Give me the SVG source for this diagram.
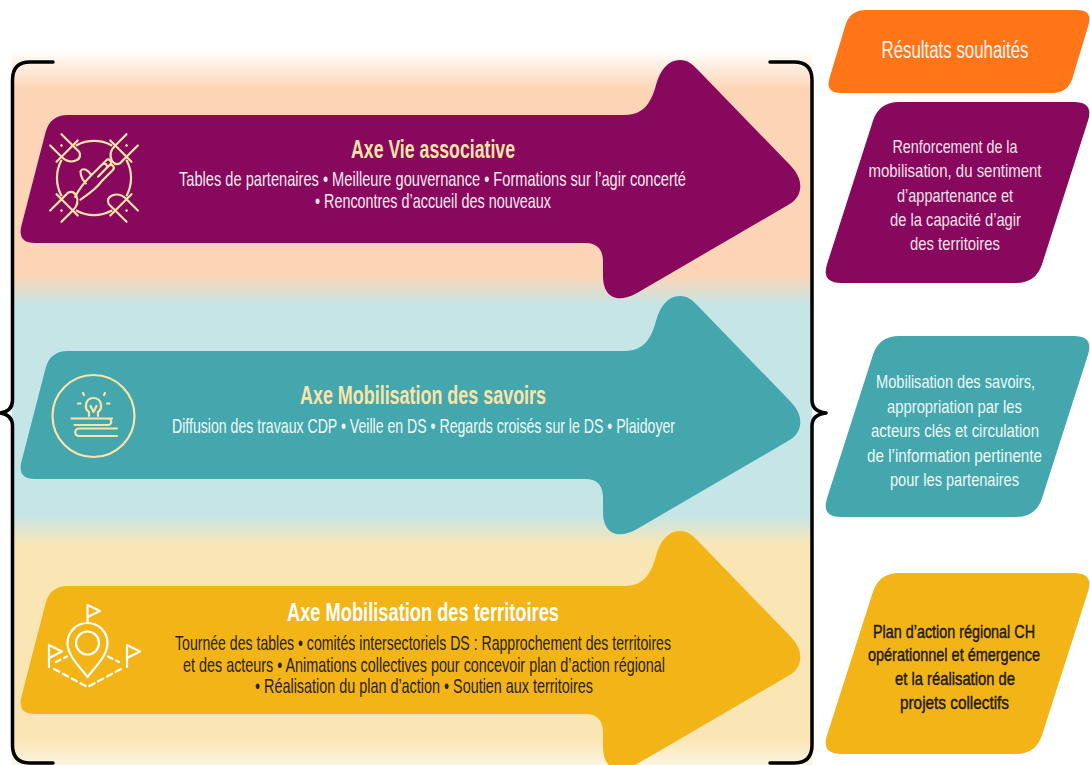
<svg xmlns="http://www.w3.org/2000/svg" xmlns:xlink="http://www.w3.org/1999/xlink" width="1090" height="765" viewBox="0 0 1090 765">
<defs>
  <linearGradient id="bg" gradientUnits="userSpaceOnUse" x1="0" y1="50" x2="0" y2="765">
    <stop offset="0" stop-color="#FFFFFF"/>
    <stop offset="0.055" stop-color="#FCD5B6"/>
    <stop offset="0.315" stop-color="#FCD5B6"/>
    <stop offset="0.357" stop-color="#C5E5E7"/>
    <stop offset="0.65" stop-color="#C5E5E7"/>
    <stop offset="0.692" stop-color="#FAE6B5"/>
    <stop offset="0.965" stop-color="#FAE6B5"/>
    <stop offset="1" stop-color="#FDF5E4"/>
  </linearGradient>
  <path id="arrow" d="M68,115 L625,115 C645,115 652,100 656,85 C660,70 668,60 680,60 C688,60 692,64 697,69 L790,165 C805,180 803,197 788,205 L637,293 C613,306 603,293 603,276 L603,262 C603,250 598,243 585,243 L35,243 Q17,243 21.5,225.5 L45.5,132.5 Q50,115 68,115 Z"/>
  <path id="para" d="M899,102 L1074,102 Q1094,102 1087.9,121 L1042.1,264 Q1036,283 1016,283 L841,283 Q821,283 827.1,264 L872.9,121 Q879,102 899,102 Z"/>
  <g id="arm">
    <path d="M-15,-38 L15,-38 M-8,-38 L-8,-54 M8,-38 L8,-54 M-8,-38 Q-8,-28 0,-25 Q6,-23 8,-29 L8,-38"/>
    <circle cx="0" cy="-46" r="1.3" fill="#FCE4A8" stroke="none"/>
  </g>
</defs>
<style>
  .t { font-family: "Liberation Sans Narrow", "Liberation Sans", "DejaVu Sans", sans-serif; text-anchor: middle; }
  .title { font-size: 26px; font-weight: bold; }
  .body { font-size: 21px; }
  .res { font-size: 18.5px; }
  .cream { fill: #FCE4A8; }
  .ico { fill: none; stroke-width: 2.2; stroke-linecap: round; stroke-linejoin: round; }
</style>

<rect id="background" x="12" y="50" width="800" height="715" fill="url(#bg)"/>

<g id="bracket" fill="none" stroke="#000000" stroke-width="3.5" stroke-linecap="round" stroke-linejoin="round">
  <path d="M53,62 L30,62 Q12.5,62 12.5,80 L12.5,400 C12.5,408 8,412 0,413 C8,414 12.5,418 12.5,426 L12.5,745 Q12.5,763 30,763 L53,763"/>
  <path d="M770,62 L794,62 Q812,62 812,80 L812,400 C812,408 817,412 826,413 C817,414 812,418 812,426 L812,745 Q812,763 794,763 L770,763"/>
</g>

<g id="axe-vie">
  <use xlink:href="#arrow" href="#arrow" fill="#87085D"/>
  <g class="ico" stroke="#FCE4A8" transform="translate(94,178)">
    <path d="M-17.4,-32.7 A37,37 0 0 1 17.4,-32.7 M32.7,-17.4 A37,37 0 0 1 32.7,17.4 M17.4,32.7 A37,37 0 0 1 -17.4,32.7 M-32.7,17.4 A37,37 0 0 1 -32.7,-17.4"/>
    <use xlink:href="#arm" href="#arm" transform="rotate(-45)"/>
    <use xlink:href="#arm" href="#arm" transform="rotate(45)"/>
    <use xlink:href="#arm" href="#arm" transform="rotate(135)"/>
    <use xlink:href="#arm" href="#arm" transform="rotate(225)"/>
    <path transform="scale(1.35)" d="M-14,14 C-10,6 -6,2 -2,-2 L6,-10 C8,-12 11,-9 9,-7 L3,-1 M1,-5 L9,-13 C11,-15 14,-12 12,-10 L5,-3 M4,-2 L11,-9 C13,-11 16,-8 14,-6 L6,2 C2,8 -4,12 -10,16 M-2,-2 C-4,-6 -8,-8 -10,-5 C-10,-1 -8,2 -6,4" stroke-width="1.6"/>
  </g>
  <text class="t title cream" x="433" y="158" textLength="164" lengthAdjust="spacingAndGlyphs">Axe Vie associative</text>
  <text class="t body" fill="#F7E8EF" x="432.5" y="186" textLength="507" lengthAdjust="spacingAndGlyphs">Tables de partenaires • Meilleure gouvernance • Formations sur l’agir concerté</text>
  <text class="t body" fill="#F7E8EF" x="433" y="208" textLength="236" lengthAdjust="spacingAndGlyphs">• Rencontres d’accueil des nouveaux</text>
</g>

<g id="axe-savoirs">
  <use xlink:href="#arrow" href="#arrow" fill="#43A7AD" transform="translate(0,236)"/>
  <g class="ico" stroke="#FCE4A8">
    <circle cx="93.5" cy="416" r="41"/>
    <path d="M89,416 L89,412 C84,409 85,398 93.5,398 C102,398 103,409 98,412 L98,416"/>
    <path d="M90.5,406 L93.5,412 L96.5,406"/>
    <path d="M83,393 L84,395 M105,393 L104,395 M78,403.5 L80.5,403.5 M107,403.5 L109.5,403.5"/>
    <path d="M112,418.5 L71.5,418.5 M74.5,425 L108,425 A3.2,3.2 0 0 0 108,418.5"/>
    <path d="M117,428.5 L79,428.5 A3.7,3.7 0 0 0 79,436 L117,436"/>
  </g>
  <text class="t title cream" x="423" y="404" textLength="246" lengthAdjust="spacingAndGlyphs">Axe Mobilisation des savoirs</text>
  <text class="t body" fill="#F2F8F8" x="423.5" y="433" textLength="503" lengthAdjust="spacingAndGlyphs">Diffusion des travaux CDP • Veille en DS • Regards croisés sur le DS • Plaidoyer</text>
</g>

<g id="axe-territoires">
  <use xlink:href="#arrow" href="#arrow" fill="#F3B417" transform="translate(0,471)"/>
  <g class="ico" stroke="#FFFFFF" stroke-width="2.5">
    <path d="M87.5,677 C80,667 67.5,656 67.5,643 A20,20 0 0 1 107.5,643 C107.5,656 95,667 87.5,677 Z"/>
    <circle cx="87.5" cy="643" r="11.5"/>
    <path d="M87.5,623 L87.5,605 L100,611 L87.5,617"/>
    <path d="M49,667 L49,645 L62,651.5 L49,658"/>
    <path d="M127,667 L127,645 L140,651.5 L127,658"/>
    <path d="M56,662 L67,656.5 M108,656.5 L119,662" stroke-dasharray="5,4"/>
    <path d="M54,669 L87.5,687 L121,669" stroke-dasharray="6,4"/>
  </g>
  <text class="t title" fill="#FFFFFF" x="423" y="621" textLength="272" lengthAdjust="spacingAndGlyphs">Axe Mobilisation des territoires</text>
  <text class="t body" fill="#2A2314" x="423" y="650" textLength="496" lengthAdjust="spacingAndGlyphs">Tournée des tables • comités intersectoriels DS : Rapprochement des territoires</text>
  <text class="t body" fill="#2A2314" x="424" y="672" textLength="482" lengthAdjust="spacingAndGlyphs">et des acteurs • Animations collectives pour concevoir plan d’action régional</text>
  <text class="t body" fill="#2A2314" x="424" y="693" textLength="338" lengthAdjust="spacingAndGlyphs">• Réalisation du plan d’action • Soutien aux territoires</text>
</g>

<g id="resultats-header">
  <path d="M866,10 L1077,10 Q1093,10 1088.4,25.3 L1072.6,77.7 Q1068,93 1052,93 L841,93 Q825,93 829.6,77.7 L845.4,25.3 Q850,10 866,10 Z" fill="#FF7518"/>
  <text class="t" font-size="23" fill="#FFF4EC" x="955" y="58" textLength="147" lengthAdjust="spacingAndGlyphs">Résultats souhaités</text>
</g>

<g id="res-vie">
  <use xlink:href="#para" href="#para" fill="#87085D"/>
  <g class="t res" fill="#F6E1EA">
    <text x="955" y="153" textLength="125" lengthAdjust="spacingAndGlyphs">Renforcement de la</text>
    <text x="955" y="177" textLength="173" lengthAdjust="spacingAndGlyphs">mobilisation, du sentiment</text>
    <text x="955" y="202" textLength="116" lengthAdjust="spacingAndGlyphs">d’appartenance et</text>
    <text x="955.5" y="226" textLength="131" lengthAdjust="spacingAndGlyphs">de la capacité d’agir</text>
    <text x="955" y="250" textLength="90" lengthAdjust="spacingAndGlyphs">des territoires</text>
  </g>
</g>

<g id="res-savoirs">
  <use xlink:href="#para" href="#para" fill="#43A7AD" transform="translate(0,234)"/>
  <g class="t res" fill="#EEF8F8">
    <text x="955.5" y="388" textLength="159" lengthAdjust="spacingAndGlyphs">Mobilisation des savoirs,</text>
    <text x="954.5" y="413" textLength="135" lengthAdjust="spacingAndGlyphs">appropriation par les</text>
    <text x="955" y="437" textLength="168" lengthAdjust="spacingAndGlyphs">acteurs clés et circulation</text>
    <text x="954.5" y="462" textLength="175" lengthAdjust="spacingAndGlyphs">de l’information pertinente</text>
    <text x="954.5" y="486" textLength="129" lengthAdjust="spacingAndGlyphs">pour les partenaires</text>
  </g>
</g>

<g id="res-territoires">
  <use xlink:href="#para" href="#para" fill="#F3B417" transform="translate(0,471)"/>
  <g class="t res" fill="#1E1A12" stroke="#1E1A12" stroke-width="0.45">
    <text x="954" y="638" textLength="162" lengthAdjust="spacingAndGlyphs">Plan d’action régional CH</text>
    <text x="954" y="661" textLength="172" lengthAdjust="spacingAndGlyphs">opérationnel et émergence</text>
    <text x="955" y="685" textLength="120" lengthAdjust="spacingAndGlyphs">et la réalisation de</text>
    <text x="954.5" y="709" textLength="109" lengthAdjust="spacingAndGlyphs">projets collectifs</text>
  </g>
</g>
</svg>
